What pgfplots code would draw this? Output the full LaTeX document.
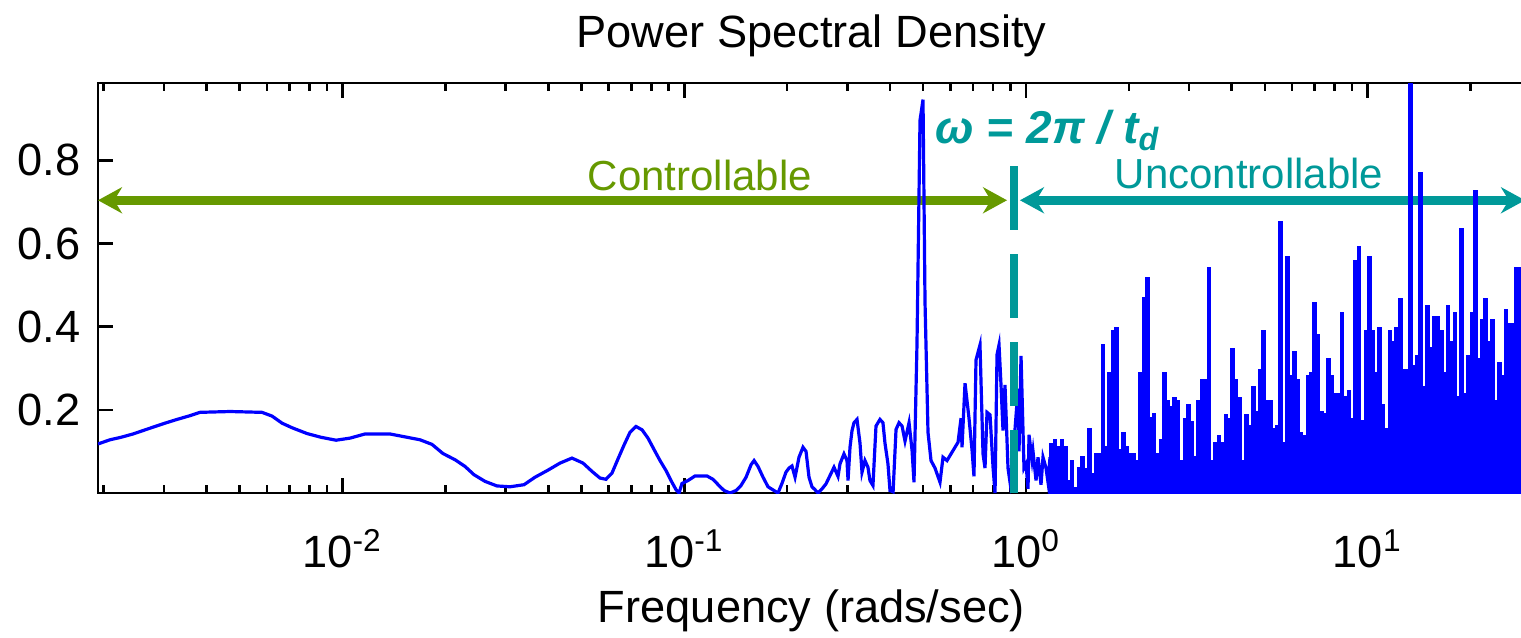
\documentclass[border=0pt]{standalone}
\usepackage{fontspec}
\setmainfont{Liberation Sans}
\usepackage{pgfplots}
\pgfplotsset{compat=1.18}
\usetikzlibrary{arrows.meta}
\definecolor{psdblue}{RGB}{0,0,255}
\definecolor{ctrlgreen}{RGB}{102,153,0}
\definecolor{uncteal}{RGB}{0,153,153}
\newcommand{\lblfont}{\fontsize{11.3}{13}\selectfont}
\begin{document}
\begin{tikzpicture}
\useasboundingbox (-24.5pt,-36pt) rectangle (355.75pt,123.25pt);
\begin{axis}[
  at={(0pt,0pt)}, anchor=south west,
  scale only axis, width=356.75pt, height=102.5pt,
  xmode=log, xmin=0.001924, xmax=28.86, ymin=0, ymax=0.986,
  xtick={0.01,0.1,1,10},
  xticklabels={10\textsuperscript{-2},10\textsuperscript{-1},10\textsuperscript{0},10\textsuperscript{1}},
  minor xtick={0.002,0.003,0.004,0.005,0.006,0.007,0.008,0.009,0.02,0.03,0.04,0.05,0.06,0.07,0.08,0.09,0.2,0.3,0.4,0.5,0.6,0.7,0.8,0.9,2,3,4,5,6,7,8,9,20},
  ytick={0.2,0.4,0.6,0.8},
  ytick pos=left, xtick pos=both,
  tick align=inside,
  major tick length=3.75pt, minor tick length=2pt,
  every tick/.style={black, line width=0.65pt},
  axis line style={line width=0.65pt},
  /pgf/number format/assume math mode=true,
  /pgf/number format/fixed,
  tick label style={font=\lblfont},
  xticklabel style={anchor=base, yshift=-18.5pt},
  yticklabel style={xshift=-0.8pt},
  clip mode=individual,
  title={Power Spectral Density},
  title style={at={(0.5,1)}, anchor=base, yshift=3pt, font=\lblfont},
  xlabel={Frequency (rads/sec)},
  xlabel style={at={(0.5,0)}, anchor=base, yshift=-32.25pt, font=\lblfont},
]
% arrows (below the data)
\draw[ctrlgreen, line width=2.2pt, {Stealth[length=6pt,width=6.5pt]}-{Stealth[length=6pt,width=6.5pt]}] (0.001924,0.704) -- (0.88,0.704);
\draw[uncteal, line width=2.2pt, {Stealth[length=6pt,width=6.5pt]}-{Stealth[length=6pt,width=6.5pt]}] (0.960,0.704) -- (28.86,0.704);

\addplot[psdblue, line width=0.8pt, sharp plot, mark=none] coordinates {
(0.001924,0.118) (0.002085,0.128) (0.002246,0.134) (0.002436,0.142) (0.002623,0.151)
(0.002825,0.160) (0.003022,0.168) (0.003277,0.177) (0.003576,0.186) (0.003825,0.194)
(0.004684,0.196) (0.00581,0.194) (0.006216,0.185) (0.00665,0.168) (0.007112,0.157)
(0.00787,0.143) (0.00865,0.134) (0.009566,0.127) (0.01051,0.132) (0.01163,0.142)
(0.01376,0.142) (0.01523,0.135) (0.01685,0.128) (0.01826,0.117) (0.01967,0.095)
(0.02133,0.080) (0.02281,0.064) (0.02424,0.044) (0.02611,0.028) (0.0283,0.017)
(0.0309,0.015) (0.03396,0.020) (0.03657,0.038) (0.03991,0.055) (0.04328,0.072)
(0.0469,0.084) (0.05053,0.072) (0.05369,0.052) (0.05666,0.036) (0.05898,0.033)
(0.06143,0.048) (0.06397,0.082) (0.0666,0.115) (0.06935,0.146) (0.07222,0.160)
(0.07522,0.152) (0.0783,0.132) (0.0815,0.105) (0.0849,0.078) (0.0884,0.054)
(0.09143,0.030) (0.09456,0.008) (0.0965,0.0) (0.09846,0.023) (0.1025,0.030)
(0.1075,0.041) (0.1165,0.041) (0.1213,0.033) (0.1263,0.018) (0.1307,0.006)
(0.1361,0.0) (0.1417,0.006) (0.1465,0.018) (0.1516,0.038) (0.1568,0.068)
(0.16,0.078) (0.1643,0.064) (0.17,0.038) (0.1758,0.015) (0.183,0.006)
(0.188,0.0) (0.1931,0.023) (0.1984,0.05) (0.2025,0.06) (0.2066,0.065)
(0.2109,0.038) (0.2166,0.086) (0.2225,0.11) (0.2271,0.10) (0.2317,0.038)
(0.2364,0.015) (0.2412,0.008) (0.2462,0.0) (0.2529,0.01) (0.2598,0.022)
(0.2669,0.042) (0.2742,0.062) (0.2817,0.04) (0.2855,0.07) (0.2933,0.094)
(0.2993,0.078) (0.3014,0.03) (0.3054,0.11) (0.3096,0.15) (0.3138,0.169)
(0.3202,0.177) (0.3267,0.12) (0.3311,0.05) (0.3378,0.078) (0.3447,0.062)
(0.3494,0.03) (0.3565,0.018) (0.3639,0.161) (0.3738,0.177) (0.3814,0.169)
(0.3866,0.12) (0.3945,0.07) (0.3999,0.006) (0.4083,0.003) (0.4165,0.153)
(0.425,0.169) (0.4337,0.161) (0.4425,0.125) (0.4546,0.169) (0.4639,0.103)
(0.4701,0.026) (0.4797,0.36) (0.4895,0.896) (0.4995,0.946) (0.5063,0.459)
(0.5166,0.146) (0.5272,0.078) (0.5416,0.06) (0.5601,0.026) (0.5716,0.086)
(0.5872,0.078) (0.6032,0.094) (0.6197,0.11) (0.6324,0.122) (0.6454,0.18)
(0.6497,0.11) (0.663,0.264) (0.681,0.18) (0.695,0.104) (0.7043,0.04)
(0.7139,0.32) (0.7334,0.356) (0.7485,0.094) (0.7586,0.06) (0.769,0.194)
(0.7847,0.188) (0.8007,0.062) (0.8116,0.0) (0.8225,0.333) (0.8337,0.356)
(0.8449,0.26) (0.8564,0.15) (0.8679,0.26) (0.8857,0.06) (0.8978,0.026)
(0.9162,0.09) (0.9475,0.25) (0.9539,0.1) (0.9669,0.33) (0.9865,0.06)
(1.0,0.07) (1.0136,0.01) (1.0204,0.14) (1.0413,0.08) (1.0483,0.10)
(1.0698,0.03) (1.0842,0.086) (1.1063,0.02) (1.1213,0.086) (1.1442,0.06)
(1.1597,0.026) (1.1755,0.086)
};

\addplot[psdblue, fill=psdblue, line width=0.3pt, const plot mark left, mark=none] coordinates {
(1.175,0.12) (1.202,0.128) (1.230,0.112) (1.259,0.128) (1.288,0.112)
(1.318,0.030) (1.349,0.078) (1.380,0.014) (1.413,0.062) (1.445,0.088)
(1.479,0.059) (1.514,0.155) (1.549,0.046) (1.585,0.094) (1.622,0.094)
(1.660,0.357) (1.698,0.112) (1.738,0.29) (1.778,0.391) (1.820,0.399)
(1.862,0.104) (1.905,0.146) (1.950,0.112) (1.995,0.094) (2.042,0.094)
(2.089,0.078) (2.138,0.29) (2.188,0.469) (2.239,0.519) (2.291,0.181)
(2.344,0.191) (2.399,0.094) (2.455,0.128) (2.512,0.29) (2.570,0.223)
(2.630,0.207) (2.692,0.229) (2.754,0.223) (2.818,0.078) (2.884,0.179)
(2.951,0.213) (3.020,0.171) (3.090,0.088) (3.162,0.223) (3.236,0.272)
(3.311,0.272) (3.388,0.542) (3.467,0.078) (3.548,0.121) (3.631,0.138)
(3.715,0.121) (3.802,0.189) (3.890,0.179) (3.981,0.348) (4.074,0.272)
(4.169,0.229) (4.266,0.078) (4.365,0.189) (4.467,0.162) (4.571,0.256)
(4.677,0.196) (4.786,0.296) (4.898,0.391) (5.012,0.223) (5.129,0.223)
(5.248,0.155) (5.370,0.162) (5.495,0.653) (5.623,0.122) (5.754,0.569)
(5.888,0.282) (6.026,0.34) (6.166,0.272) (6.310,0.146) (6.457,0.138)
(6.607,0.282) (6.761,0.29) (6.918,0.458) (7.079,0.381) (7.244,0.197)
(7.413,0.191) (7.586,0.324) (7.762,0.282) (7.943,0.24) (8.128,0.24)
(8.318,0.434) (8.511,0.231) (8.710,0.247) (8.913,0.179) (9.120,0.56)
(9.333,0.593) (9.550,0.173) (9.772,0.391) (10.00,0.569) (10.23,0.391)
(10.47,0.29) (10.72,0.399) (10.96,0.213) (11.22,0.155) (11.48,0.391)
(11.75,0.365) (12.02,0.399) (12.30,0.467) (12.59,0.298) (12.88,0.298)
(13.18,0.99) (13.49,0.307) (13.80,0.33) (14.13,0.771) (14.45,0.256)
(14.79,0.45) (15.14,0.349) (15.49,0.425) (15.85,0.425) (16.22,0.391)
(16.60,0.29) (16.98,0.45) (17.38,0.365) (17.78,0.434) (18.20,0.231)
(18.62,0.637) (19.05,0.239) (19.50,0.33) (19.95,0.434) (20.42,0.728)
(20.89,0.324) (21.38,0.417) (21.88,0.467) (22.39,0.365) (22.91,0.417)
(23.44,0.223) (23.99,0.314) (24.55,0.282) (25.12,0.441) (25.70,0.407)
(26.30,0.407) (26.92,0.542) (27.54,0.542) (28.86,0.542)
} \closedcycle;

% threshold line (above the data)
\draw[uncteal, line width=2pt, dash pattern=on 16pt off 6pt] (0.922,0.786) -- (0.922,0);

\node[ctrlgreen, anchor=base, font=\fontsize{10.5}{12}\selectfont] at (0.1111,0.728) {Controllable};
\node[uncteal, anchor=base, font=\fontsize{10.5}{12}\selectfont] at (4.494,0.733) {Uncontrollable};
\node[uncteal, anchor=base west, inner sep=0pt, font=\fontsize{11.5}{13}\selectfont\bfseries\itshape] at (0.5416,0.841) {ω = 2π / t\textsubscript{d}};
\end{axis}
\end{tikzpicture}
\end{document}
